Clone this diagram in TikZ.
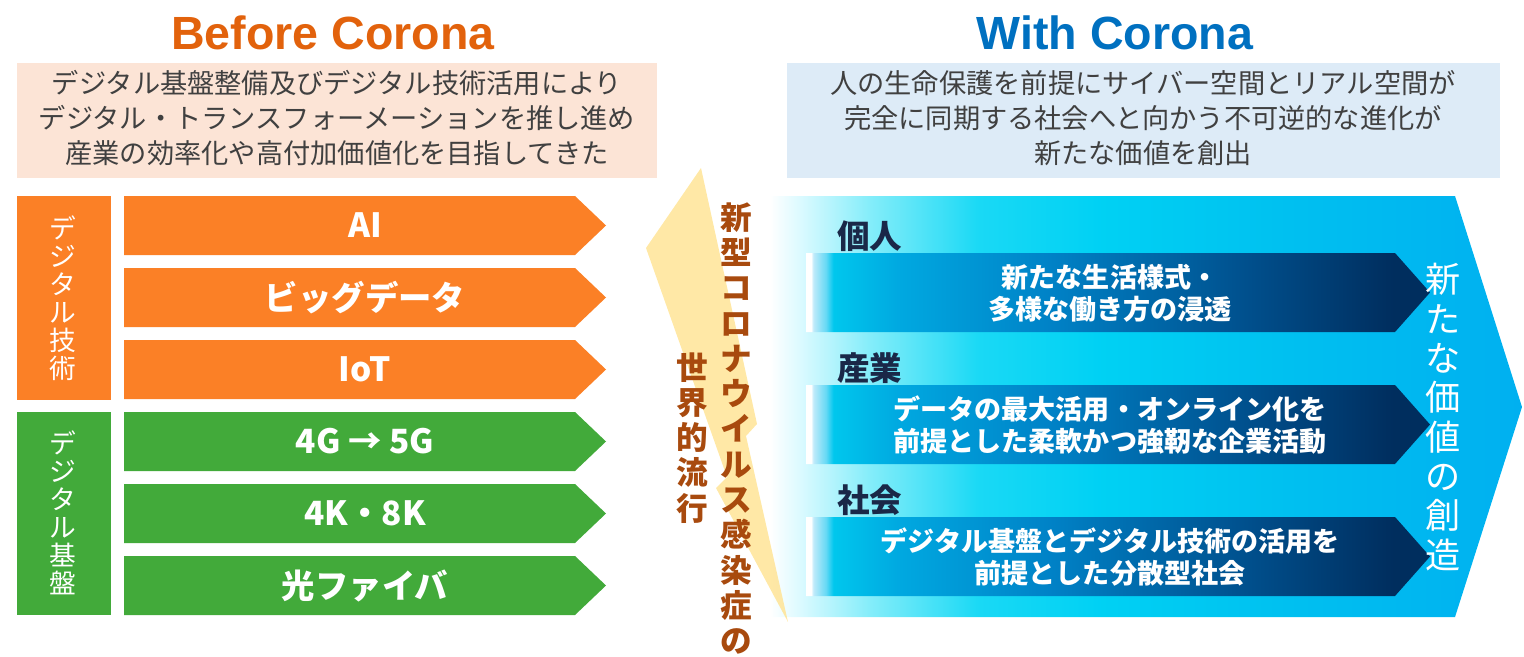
\documentclass[tikz,border=0pt]{standalone}
\usepackage{fontspec}
\setmainfont{Liberation Sans}
\newfontfamily\jp{Noto Sans CJK JP}
\usetikzlibrary{positioning}

\definecolor{titleorange}{RGB}{226,98,12}
\definecolor{titleblue}{RGB}{0,112,192}
\definecolor{techorange}{RGB}{251,128,38}
\definecolor{basegreen}{RGB}{66,170,58}
\definecolor{peach}{RGB}{252,228,214}
\definecolor{paleblue}{RGB}{221,235,247}
\definecolor{boxgray}{RGB}{64,64,64}
\definecolor{labnavy}{RGB}{26,40,72}
\definecolor{boltyellow}{RGB}{255,228,150}
\definecolor{boltbrown}{RGB}{168,74,14}

% big chevron, path runs over 25bp..75bp
\pgfdeclarehorizontalshading{withbg}{100bp}{rgb(0bp)=(1,1,1); rgb(25bp)=(1,1,1);
  rgb(27bp)=(0.86,0.98,1); rgb(31.6bp)=(0.52,0.93,0.98); rgb(38.9bp)=(0.1,0.85,0.96);
  rgb(46.9bp)=(0,0.82,0.955); rgb(60bp)=(0,0.75,0.94); rgb(75bp)=(0,0.69,0.94); rgb(100bp)=(0,0.69,0.94)}
% dark arrows inside
\pgfdeclarehorizontalshading{innerarrow}{100bp}{rgb(0bp)=(1,1,1); rgb(25.4bp)=(1,1,1);
  rgb(25.6bp)=(0.75,0.92,0.98); rgb(26.6bp)=(0.4,0.85,0.96); rgb(27.2bp)=(0,0.78,0.93);
  rgb(32.5bp)=(0,0.66,0.88); rgb(44.5bp)=(0,0.51,0.78); rgb(60.5bp)=(0,0.31,0.55);
  rgb(72bp)=(0,0.18,0.37); rgb(100bp)=(0,0.18,0.37)}

\begin{document}
\begin{tikzpicture}[x=0.02cm,y=-0.02cm,
    every node/.style={inner sep=0pt},
    titletxt/.style={font=\bfseries\fontsize{26.5}{30}\selectfont},
    boxtxt/.style={font=\jp\fontsize{15.5}{19.8}\selectfont,text=boxgray,align=center},
    itemtxt/.style={font=\jp\bfseries\fontsize{19}{22}\selectfont,text=white},
    cattxt/.style={font=\jp\fontsize{15.2}{15.9}\selectfont,text=white,align=center},
    labtxt/.style={font=\jp\bfseries\fontsize{18.5}{22}\selectfont,text=labnavy},
    valtxt/.style={font=\jp\bfseries\fontsize{15.4}{18.1}\selectfont,text=white,align=center},
    midtxt/.style={font=\jp\bfseries\fontsize{18}{20.1}\selectfont,text=boltbrown,align=center},
    newtxt/.style={font=\jp\fontsize{20}{22.4}\selectfont,text=white,align=center}]
    \useasboundingbox (0,0) rectangle (1524,656);
    \clip (0,0) rectangle (1524,656);

    % headings
    \node[titletxt,text=titleorange] (before) at (333,33) {Before Corona};
    \node[titletxt,text=titleblue] (with) at (1115,33) {With Corona};

    \fill[peach] (17,63) rectangle (657,178);
    \node[boxtxt] (beforetxt) at (337,118) {デジタル基盤整備及びデジタル技術活用により\\デジタル・トランスフォーメーションを推し進め\\産業の効率化や高付加価値化を目指してきた};
    \fill[paleblue] (787,63) rectangle (1500,178);
    \node[boxtxt] (withtxt) at (1143,118) {人の生命保護を前提にサイバー空間とリアル空間が\\完全に同期する社会へと向かう不可逆的な進化が\\新たな価値を創出};

    % left side
    \fill[techorange] (17,196) rectangle (111,400);
    \node[cattxt] (tech) at (63,298) {デ\\ジ\\タ\\ル\\技\\術};
    \fill[basegreen] (17,412) rectangle (111,615);
    \node[cattxt] (infra) at (63,513) {デ\\ジ\\タ\\ル\\基\\盤};

    \foreach \y/\c/\t [count=\i] in {196/techorange/AI, 268/techorange/ビッグデータ, 340/techorange/IoT,
        412/basegreen/4G → 5G, 484/basegreen/4K・8K, 556/basegreen/光ファイバ} {
      \fill[\c] (124,\y) -- (575,\y) -- (606,\y+29.5) -- (575,\y+59) -- (124,\y+59) -- cycle;
      \node[itemtxt] (item\i) at (365,\y+29.5) {\t};
    }

    % right side
    \shade[shading=withbg] (770,196) -- (1455,196) -- (1522,407) -- (1455,617) -- (770,617) -- cycle;
    \foreach \y/\lab/\t [count=\i] in {253/個人/{新たな生活様式・\\多様な働き方の浸透},
        385/産業/{データの最大活用・オンライン化を\\前提とした柔軟かつ強靭な企業活動},
        517/社会/{デジタル基盤とデジタル技術の活用を\\前提とした分散型社会}} {
      \shade[shading=innerarrow] (806,\y) -- (1395,\y) -- (1430,\y+39.5) -- (1395,\y+79) -- (806,\y+79) -- cycle;
      \node[labtxt,anchor=west] (lab\i) at (837,\y-17) {\lab};
      \node[valtxt] (val\i) at (1110,\y+40) {\t};
    }
    \node[newtxt,anchor=north] (newvalue) at (1443,263) {新\\た\\な\\価\\値\\の\\創\\造};

    % lightning in the middle
    \fill[boltyellow,opacity=0.85] (701,168) -- (757,424) -- (746,436) -- (788,622) -- (716,488)
      -- (727,477) -- (646,248) -- cycle;
    \node[midtxt,anchor=north] (pandemic) at (736,202) {新\\型\\コ\\ロ\\ナ\\ウ\\イ\\ル\\ス\\感\\染\\症\\の};
    \node[midtxt,anchor=north] (global) at (692,352) {世\\界\\的\\流\\行};
\end{tikzpicture}
\end{document}
